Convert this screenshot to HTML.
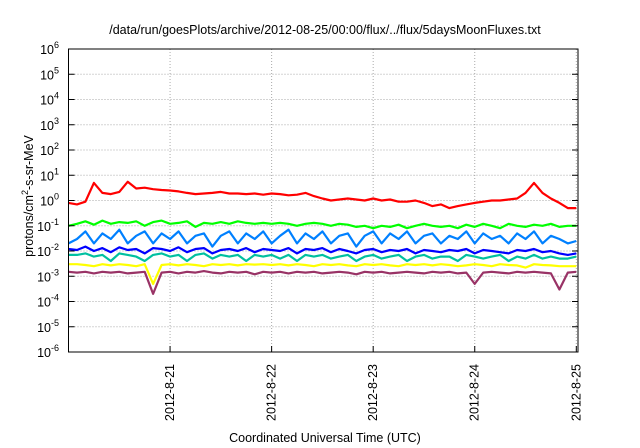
<!DOCTYPE html>
<html><head><meta charset="utf-8"><style>
body{margin:0;background:#fff;font-family:"Liberation Sans",sans-serif}
svg{display:block}
</style></head><body>
<svg id="chart" width="640" height="448">
<rect width="640" height="448" fill="#fff"/>
<text x="325" y="34" font-size="12.5" text-anchor="middle">/data/run/goesPlots/archive/2012-08-25/00:00/flux/../flux/5daysMoonFluxes.txt</text>
<text x="325" y="442" font-size="12.5" text-anchor="middle">Coordinated Universal Time (UTC)</text>
<text transform="translate(33,196) rotate(-90)" font-size="12.5" text-anchor="middle">protons/cm<tspan dy="-5" font-size="9">2</tspan><tspan dy="5">-s-sr-MeV</tspan></text>
<g id="grid"></g><g id="series"></g><g id="axes"></g>
<rect x="68.5" y="49" width="509.5" height="303" fill="none" stroke="#000" stroke-width="1"/>
</svg>
<script>
const yExponents=[-6,-5,-4,-3,-2,-1,0,1,2,3,4,5,6];
const dayLabels=["2012-8-21","2012-8-22","2012-8-23","2012-8-24","2012-8-25"];
const dayHours=[24,48,72,96,120];
const seriesColors=["#ff0000","#00ff00","#0080ff","#0000ff","#00c0a0","#ffff00","#993366"];
const red=[0.8,0.7,0.9,5.0,2.0,1.8,2.2,5.5,3.0,3.2,2.8,2.6,2.5,2.3,2.0,1.8,1.9,2.0,2.2,1.9,1.9,1.8,1.9,1.7,1.9,1.8,1.6,1.7,2.0,1.5,1.2,1.0,1.1,1.2,1.1,1.0,1.2,1.0,1.1,0.9,0.9,1.0,0.8,0.6,0.7,0.5,0.6,0.7,0.8,0.9,1.0,1.0,1.1,1.2,2.0,5.0,2.0,1.2,0.8,0.5,0.5];
const green=[0.1,0.12,0.15,0.11,0.16,0.12,0.14,0.13,0.15,0.1,0.14,0.16,0.12,0.13,0.15,0.09,0.13,0.12,0.14,0.12,0.15,0.13,0.12,0.13,0.12,0.13,0.12,0.1,0.12,0.13,0.12,0.1,0.12,0.11,0.09,0.1,0.08,0.1,0.09,0.11,0.08,0.1,0.12,0.1,0.09,0.1,0.08,0.11,0.09,0.12,0.1,0.08,0.12,0.1,0.09,0.11,0.1,0.12,0.09,0.1,0.1];
const lightBlue=[0.02,0.03,0.06,0.02,0.05,0.03,0.07,0.02,0.04,0.06,0.02,0.05,0.03,0.06,0.02,0.04,0.05,0.015,0.04,0.06,0.02,0.05,0.03,0.06,0.02,0.04,0.07,0.02,0.05,0.03,0.06,0.02,0.04,0.05,0.015,0.04,0.06,0.02,0.05,0.03,0.06,0.02,0.04,0.05,0.02,0.04,0.03,0.06,0.02,0.05,0.03,0.04,0.02,0.05,0.03,0.06,0.02,0.04,0.03,0.02,0.025];
const blue=[0.012,0.011,0.015,0.01,0.013,0.009,0.014,0.011,0.012,0.008,0.013,0.012,0.01,0.014,0.009,0.012,0.013,0.008,0.011,0.012,0.01,0.013,0.009,0.012,0.011,0.01,0.013,0.008,0.012,0.011,0.013,0.009,0.012,0.01,0.008,0.011,0.012,0.009,0.011,0.01,0.012,0.008,0.011,0.01,0.009,0.011,0.01,0.012,0.008,0.011,0.01,0.009,0.008,0.011,0.01,0.012,0.009,0.01,0.008,0.007,0.008];
const teal=[0.007,0.007,0.008,0.006,0.007,0.004,0.008,0.007,0.006,0.004,0.007,0.008,0.006,0.007,0.004,0.007,0.008,0.005,0.007,0.006,0.007,0.004,0.007,0.006,0.007,0.005,0.007,0.004,0.007,0.006,0.007,0.005,0.006,0.007,0.004,0.006,0.007,0.005,0.006,0.007,0.004,0.006,0.007,0.005,0.006,0.006,0.004,0.007,0.006,0.005,0.006,0.007,0.004,0.006,0.005,0.007,0.005,0.006,0.005,0.005,0.006];
const yellow=[0.003,0.003,0.0028,0.0025,0.003,0.0027,0.003,0.0028,0.0025,0.003,0.0005,0.0028,0.003,0.0027,0.003,0.0028,0.0025,0.003,0.0028,0.003,0.0027,0.003,0.0029,0.003,0.0028,0.003,0.0027,0.003,0.0028,0.0025,0.003,0.0028,0.003,0.0027,0.0025,0.003,0.0028,0.003,0.0027,0.0025,0.003,0.0028,0.003,0.0027,0.003,0.0028,0.0025,0.0027,0.003,0.0028,0.0025,0.003,0.0028,0.0027,0.0022,0.003,0.0028,0.0027,0.0025,0.0025,0.0025];
const purple=[0.0015,0.0014,0.0015,0.0013,0.0015,0.0014,0.0015,0.0013,0.0014,0.0015,0.0002,0.0014,0.0015,0.0013,0.0015,0.0014,0.0016,0.0014,0.0013,0.0015,0.0014,0.0015,0.0012,0.0015,0.0014,0.0015,0.0013,0.0015,0.0014,0.0015,0.0013,0.0014,0.0015,0.0014,0.0012,0.0015,0.0014,0.0015,0.0013,0.0014,0.0015,0.0014,0.0013,0.0015,0.0014,0.0015,0.0013,0.0014,0.0005,0.0014,0.0015,0.0014,0.0013,0.0015,0.0014,0.0015,0.0014,0.0013,0.0003,0.0014,0.0015];
const allSeries=[red,green,lightBlue,blue,teal,yellow,purple];
const seriesNames=["series-red","series-green","series-light-blue","series-blue","series-teal","series-yellow","series-purple"];
const totalHours=120.4;

const NS="http://www.w3.org/2000/svg";
const L=68.5,R=578,T=49,B=352;
const xS=h=>L+(h/totalHours)*(R-L);
const yS=v=>B-(Math.log10(v)+6)/12*(B-T);
function mk(tag,attrs,parent){const e=document.createElementNS(NS,tag);for(const k in attrs)e.setAttribute(k,attrs[k]);parent.appendChild(e);return e;}
const grid=document.getElementById('grid'),axes=document.getElementById('axes'),ser=document.getElementById('series');
yExponents.forEach(p=>{
  const y=B-(p+6)/12*(B-T);
  if(p>-6&&p<6){const g=mk('line',{x1:L,x2:R,y1:y,y2:y,stroke:'#aaa','stroke-dasharray':'1,2'},grid);
  
  }
  const t1=mk('line',{x1:L,x2:L+6,y1:y,y2:y,stroke:'#000'},axes);
  
  
  const t2=mk('line',{x1:R-6,x2:R,y1:y,y2:y,stroke:'#000'},axes);
  
  
  const tx=mk('text',{x:59,y:y+5,'font-size':'12.5','text-anchor':'end'},axes);
  
  
  tx.innerHTML='10<tspan dy="-6" font-size="9">'+p+'</tspan>';
});
dayHours.forEach((h,i)=>{
  const x=xS(h);
  const g=mk('line',{x1:x,x2:x,y1:T,y2:B,stroke:'#aaa','stroke-dasharray':'1,2'},grid);
  
  
  const t=mk('line',{x1:x,x2:x,y1:B-6,y2:B,stroke:'#000'},axes);
  
  
  const tx=mk('text',{transform:`translate(${x+4},364) rotate(-90)`,'font-size':'12.5','text-anchor':'end'},axes);
  
  
  tx.textContent=dayLabels[i];
});
allSeries.forEach((vals,si)=>{
  const step=120/(vals.length-1);
  const pts=vals.map((v,i)=>xS(i*step).toFixed(1)+','+yS(v).toFixed(1)).join(' ');
  const pl=mk('polyline',{points:pts,fill:'none',stroke:seriesColors[si],'stroke-width':'2.2','stroke-linejoin':'round'},ser);
  
  
});
</script>
</body></html>
